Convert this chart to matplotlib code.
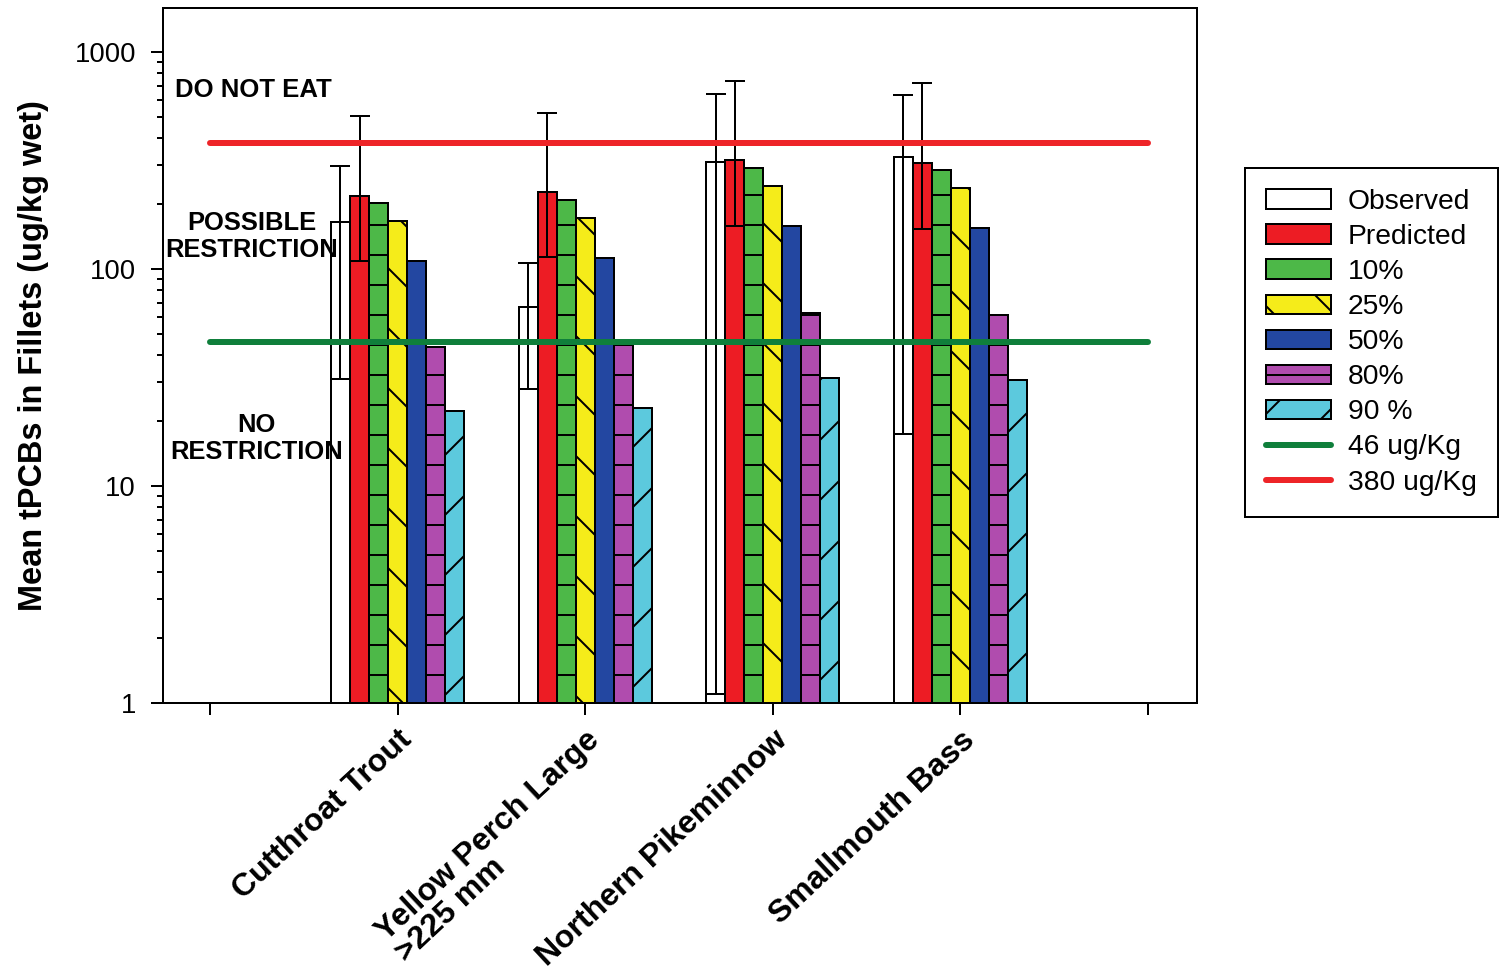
import numpy as np
import matplotlib
matplotlib.use('Agg')
import matplotlib.pyplot as plt
from matplotlib.ticker import FixedLocator, LogLocator, NullFormatter

plt.rcParams['font.family'] = ['Liberation Sans', 'DejaVu Sans']
plt.rcParams['hatch.linewidth'] = 0.8
plt.rcParams['hatch.color'] = 'black'

# ---------------- data ----------------
species = ['Cutthroat Trout', 'Yellow Perch Large\n>225 mm',
           'Northern Pikeminnow', 'Smallmouth Bass']
series_names = ['Observed', 'Predicted', '10%', '25%', '50%', '80%', '90 %']
observed = [165, 67, 311, 328]
observed_low = [31, 28, 1.1, 17.4]
observed_high = [298, 107, 640, 634]
predicted = [217, 226, 318, 308]
predicted_low = [109, 114, 158, 153]
predicted_high = [507, 524, 735, 720]
pct10 = [201, 208, 292, 286]
pct25 = [166, 172, 241, 236]
pct50 = [109, 112, 158, 154]
pct80 = [43.7, 44.7, 62.7, 61.4]
pct90 = [22.2, 22.9, 31.4, 30.8]
threshold_values = [46, 380]
threshold_labels = ['46 ug/Kg', '380 ug/Kg']
yticks = [1, 10, 100, 1000]
ytick_labels = ['1', '10', '100', '1000']
zone_labels = ['DO NOT EAT', 'POSSIBLE\nRESTRICTION', 'NO\nRESTRICTION']

# ---------------- style ----------------
bar_colors = ['white', '#ED1C24', '#4DB848', '#F5EC1A', '#2347A1', '#B04CAE', '#5CC9DD']
bar_hatches = [None, None, '-', '\\', None, '-', '/']
line_colors = ['#0F7F3B', '#EE2428']

W, H, DPI = 1500, 973, 180
fig = plt.figure(figsize=(W / DPI, H / DPI), dpi=DPI)
fig.patch.set_facecolor('white')
ax = fig.add_axes([163 / W, 1 - 703 / H, (1197 - 163) / W, (703 - 8) / H])
ax.set_yscale('log')

series = [observed, predicted, pct10, pct25, pct50, pct80, pct90]
centers = np.arange(1, len(species) + 1)
bw = 0.1015
handles = []
for k, (vals, name) in enumerate(zip(series, series_names)):
    xs = centers + (k - 3) * bw
    bc = ax.bar(xs, vals, width=bw, color=bar_colors[k], edgecolor='black',
                linewidth=0.8, hatch=bar_hatches[k], label=name, zorder=2)
    handles.append(bc)
    if k == 0:
        lo, hi = observed_low, observed_high
    elif k == 1:
        lo, hi = predicted_low, predicted_high
    else:
        continue
    yerr = [np.array(vals) - np.array(lo), np.array(hi) - np.array(vals)]
    ax.errorbar(xs, vals, yerr=yerr, fmt='none', ecolor='black',
                elinewidth=0.8, capsize=4, capthick=0.8, zorder=3)

for val, lab, col in zip(threshold_values, threshold_labels, line_colors):
    ln, = ax.plot([0, len(species) + 1], [val, val], color=col, lw=2.4,
                  solid_capstyle='round', label=lab, zorder=4)
    handles.append(ln)

ax.set_xlim(-0.2505, 5.261)
ax.set_ylim(1, 1595)

ax.set_xticks(np.arange(0, len(species) + 2))
ax.set_xticklabels([''] + species + [''], rotation=43, ha='right', va='top',
                   rotation_mode='anchor', fontsize=12.8, fontweight='bold',
                   multialignment='left', linespacing=0.95)
ax.yaxis.set_major_locator(FixedLocator(yticks))
ax.set_yticklabels(ytick_labels, fontsize=11)
ax.yaxis.set_minor_locator(LogLocator(base=10, subs=np.arange(2, 10)))
ax.yaxis.set_minor_formatter(NullFormatter())
ax.tick_params(axis='y', which='major', direction='out', length=4.8, width=0.8, pad=6)
ax.tick_params(axis='y', which='minor', direction='out', length=2.4, width=0.8)
ax.tick_params(axis='x', which='major', direction='out', length=4.8, width=0.8, pad=4.0)
for s in ax.spines.values():
    s.set_linewidth(0.8)

ax.set_ylabel('Mean tPCBs in Fillets (ug/kg wet)', fontsize=13, fontweight='bold')
ax.yaxis.set_label_coords(-0.110, 0.5)

ax.text(-0.1866, 668, zone_labels[0], fontsize=10.3, fontweight='bold',
        ha='left', va='center')
ax.text(0.224, 141, zone_labels[1], fontsize=10.2, fontweight='bold',
        ha='center', va='center', multialignment='center', linespacing=1.15)
ax.text(0.25, 16.5, zone_labels[2], fontsize=10.2, fontweight='bold',
        ha='center', va='center', multialignment='center', linespacing=1.15)

leg = fig.legend(handles=handles, loc='upper left',
                 bbox_to_anchor=(1245 / W, 1 - 168 / H), borderaxespad=0,
                 fontsize=11.3, handlelength=2.3, handleheight=0.7,
                 handletextpad=0.6, labelspacing=0.32, borderpad=0.75,
                 fancybox=False, edgecolor='black', framealpha=1)
leg.get_frame().set_linewidth(0.8)

fig.savefig('out.png', dpi=DPI, facecolor='white')
